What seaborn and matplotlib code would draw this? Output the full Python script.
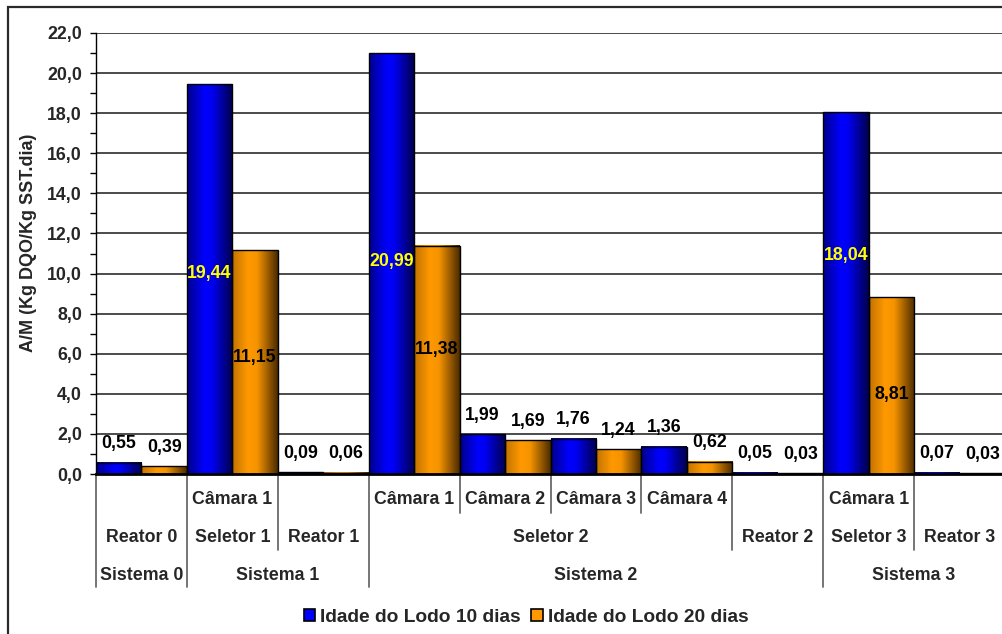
import numpy as np
import pandas as pd
import matplotlib
matplotlib.use("Agg")
import matplotlib.pyplot as plt
import seaborn as sns
from matplotlib.colors import LinearSegmentedColormap
from matplotlib.patches import Patch, Rectangle
from matplotlib.lines import Line2D
from matplotlib.transforms import blended_transform_factory

# ---- data -------------------------------------------------------------
slots = ["Reator 0", "Seletor 1 - Câmara 1", "Reator 1",
         "Seletor 2 - Câmara 1", "Seletor 2 - Câmara 2", "Seletor 2 - Câmara 3",
         "Seletor 2 - Câmara 4", "Reator 2", "Seletor 3 - Câmara 1", "Reator 3"]
series = ["Idade do Lodo 10 dias", "Idade do Lodo 20 dias"]
am_10_dias = [0.55, 19.44, 0.09, 20.99, 1.99, 1.76, 1.36, 0.05, 18.04, 0.07]
am_20_dias = [0.39, 11.15, 0.06, 11.38, 1.69, 1.24, 0.62, 0.03, 8.81, 0.03]

# category hierarchy: chamber row, unit row, system row
camaras = ["", "Câmara 1", "", "Câmara 1", "Câmara 2", "Câmara 3",
           "Câmara 4", "", "Câmara 1", ""]
unidades = ["Reator 0", "Seletor 1", "Reator 1", "Seletor 2", "Seletor 2",
            "Seletor 2", "Seletor 2", "Reator 2", "Seletor 3", "Reator 3"]
sistemas = ["Sistema 0", "Sistema 1", "Sistema 1", "Sistema 2", "Sistema 2",
            "Sistema 2", "Sistema 2", "Sistema 2", "Sistema 3", "Sistema 3"]

y_ticks = np.arange(0, 23, 2)

# ---- layout / styling -------------------------------------------------
W, H = 1002, 634
# label heights (data units) for labels drawn inside the tall bars
inside_10 = {1: 10.0, 3: 10.6, 8: 10.9}
inside_20 = {1: 5.8, 3: 6.2, 8: 3.95}

sns.set_style("white")
plt.rcParams["font.family"] = ["Liberation Sans", "DejaVu Sans"]
plt.rcParams["font.weight"] = "bold"

df = pd.DataFrame({
    "slot": slots * 2,
    "valor": am_10_dias + am_20_dias,
    "serie": [series[0]] * len(slots) + [series[1]] * len(slots),
})

fig = plt.figure(figsize=(W / 100, H / 100), dpi=100)
ax = fig.add_axes([96 / W, 160 / H, 909 / W, 441 / H])

sns.barplot(data=df, x="slot", y="valor", hue="serie", order=slots,
            hue_order=series, palette=["#0000FF", "#FF9900"], width=1.0,
            gap=0, edgecolor="black", linewidth=1.0, errorbar=None,
            legend=False, ax=ax)

# horizontal shading on the bars
cmaps = [
    LinearSegmentedColormap.from_list(
        "azul", [(0, "#00008A"), (0.4, "#0000FF"), (0.55, "#0000F0"), (1, "#00004A")]),
    LinearSegmentedColormap.from_list(
        "laranja", [(0, "#C07200"), (0.35, "#FF9900"), (0.55, "#F59300"), (1, "#4A2A00")]),
]
grad = np.linspace(0, 1, 256).reshape(1, -1)
for cont, cmap in zip(ax.containers, cmaps):
    for bar in cont:
        x0 = bar.get_x()
        w = bar.get_width()
        h = bar.get_height()
        if h <= 0:
            continue
        ax.imshow(grad, cmap=cmap, extent=[x0, x0 + w, 0, h], aspect="auto",
                  interpolation="bicubic", zorder=2)
        bar.set_facecolor("none")
        bar.set_zorder(3)

ax.set_xlim(-0.5, len(slots) - 0.5)
ax.set_ylim(0, 22)

# value labels
def fmt(v):
    return f"{v:.2f}".replace(".", ",")

for cont, vals, inside in zip(ax.containers, [am_10_dias, am_20_dias],
                              [inside_10, inside_20]):
    for i, (bar, v) in enumerate(zip(cont, vals)):
        xc = bar.get_x() + bar.get_width() / 2
        if i in inside:
            color = "#FFFF00" if cont is ax.containers[0] else "black"
            ax.text(xc, inside[i], fmt(v), ha="center", va="center",
                    fontsize=12.8, fontweight="bold", color=color, zorder=5)
        else:
            ax.annotate(fmt(v), (xc, v), xytext=(0, 13.7),
                        textcoords="offset points", ha="center", va="center",
                        fontsize=12.8, fontweight="bold", color="black",
                        zorder=5)

# axes styling
ax.set_yticks(y_ticks)
ax.set_yticklabels([f"{t:.1f}".replace(".", ",") for t in y_ticks],
                   fontsize=12.8, fontweight="bold")
ax.set_yticks(np.arange(1, 22, 2), minor=True)
ax.tick_params(axis="y", which="both", direction="out", length=4.5,
               width=1, color="black", pad=5.5, left=True)
ax.tick_params(axis="x", bottom=False, labelbottom=False)
ax.set_xlabel("")
ax.set_ylabel("")
ax.grid(axis="y", color="#1a1a1a", linewidth=1.1, zorder=0)
ax.grid(axis="x", visible=False)
ax.set_axisbelow(True)
for s in ["top", "right"]:
    ax.spines[s].set_visible(False)
ax.spines["left"].set_color("black")
ax.spines["left"].set_linewidth(1.0)
ax.spines["bottom"].set_color("black")
ax.spines["bottom"].set_linewidth(2.0)
ax.spines["bottom"].set_zorder(6)

fig.text(29 / W, 1 - 243 / H, "A/M (Kg DQO/Kg SST.dia)", rotation=90,
         ha="center", va="center", fontsize=13, fontweight="bold")

# multi-level category axis
tr = blended_transform_factory(ax.transData, fig.transFigure)
row_y = [500, 538, 575]
row_end = [513, 550, 587]
ybase = 474

def groups(labels):
    out = []
    start = 0
    for i in range(1, len(labels) + 1):
        if i == len(labels) or labels[i] != labels[start]:
            out.append((labels[start], start, i - 1))
            start = i
    return out

for row, labels in enumerate([camaras, unidades, sistemas]):
    for lab, a, b in groups(labels):
        if lab:
            ax.text((a + b) / 2, 1 - row_y[row] / H, lab, transform=tr,
                    ha="center", va="center", fontsize=12.8,
                    fontweight="bold", clip_on=False)

for k in range(len(slots) + 1):
    if k == 0 or k == len(slots) or sistemas[k] != sistemas[k - 1]:
        end = row_end[2]
    elif unidades[k] != unidades[k - 1]:
        end = row_end[1]
    else:
        end = row_end[0]
    ax.add_line(Line2D([k - 0.5, k - 0.5], [1 - ybase / H, 1 - end / H],
                       transform=tr, color="#6a6a6a", linewidth=1.3,
                       clip_on=False))

# legend
handles = [Patch(facecolor="#0000FF", edgecolor="black", linewidth=1.2),
           Patch(facecolor="#FF9900", edgecolor="black", linewidth=1.2)]
fig.legend(handles, series, loc="center", bbox_to_anchor=(526 / W, 1 - 617 / H),
           ncol=2, frameon=False, prop={"size": 13.8, "weight": "bold"},
           handlelength=0.6, handleheight=0.6, handletextpad=0.25,
           columnspacing=0.55, borderaxespad=0)

# chart frame
fig.add_artist(Rectangle((8 / W, -0.05), 1.1, 1.05 - 6.5 / H,
                         transform=fig.transFigure, fill=False,
                         edgecolor="#2a2a2a", linewidth=1.6))

fig.savefig("out.png", dpi=100)
